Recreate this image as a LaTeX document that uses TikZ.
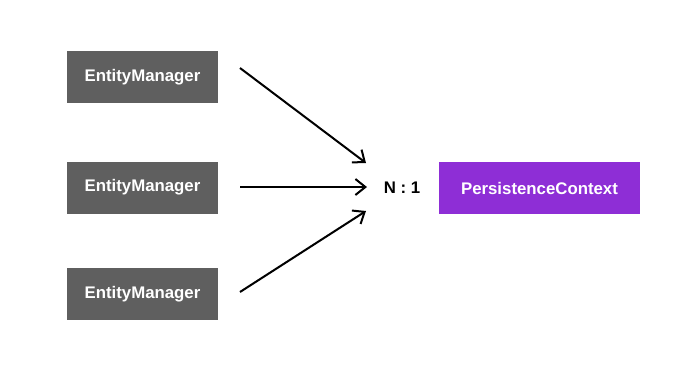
\documentclass[tikz,border=0pt]{standalone}
\usepackage{fontspec}
\setmainfont{Liberation Sans}
\usepackage{xcolor}
\usetikzlibrary{arrows.meta,positioning}
\definecolor{emgray}{HTML}{5F5F5F}
\definecolor{ctxpurple}{HTML}{8E2ED6}

\begin{document}
\begin{tikzpicture}[
  x=0.75pt, y=-0.75pt,
  font=\bfseries\fontsize{12.6}{14}\selectfont,
  em/.style={fill=emgray, text=white, minimum width=113.25pt, minimum height=39pt, inner sep=0pt},
  ctx/.style={fill=ctxpurple, text=white, minimum width=150.75pt, minimum height=39pt, inner sep=0pt},
  ar/.style={-{Straight Barb[length=7.5pt, width=12pt, line width=1.5pt]}, line width=1.5pt, black},
]
\useasboundingbox (0,0) rectangle (683,376);
\node[em] (em1) at (142.5,77) {EntityManager};
\node[em] (em2) at (142.5,187.5) {EntityManager};
\node[em] (em3) at (142.5,294) {EntityManager};
\node[ctx] (pc) at (539.5,188) {PersistenceContext};
\node (ratio) at (402,187.5) {N : 1};

\coordinate (s1) at (240,68);
\coordinate (s2) at (240,187);
\coordinate (s3) at (240,292);
\coordinate (e1) at (366,163);
\coordinate (e2) at (367,187);
\coordinate (e3) at (366,211);

\draw[ar] (s1) -- (e1);
\draw[ar] (s2) -- (e2);
\draw[ar] (s3) -- (e3);
\end{tikzpicture}
\end{document}
